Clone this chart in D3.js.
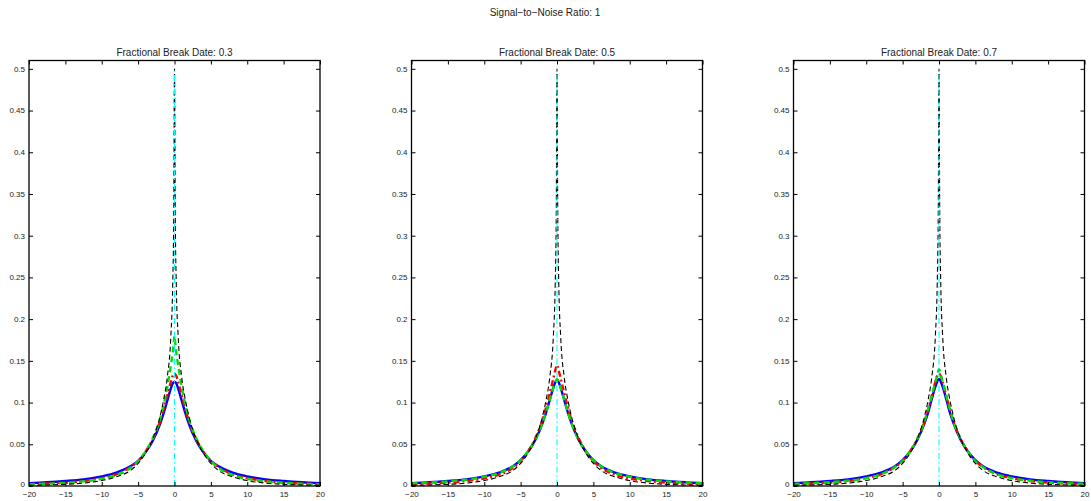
<!DOCTYPE html>
<html><head><meta charset="utf-8">
<script src="https://cdnjs.cloudflare.com/ajax/libs/d3/7.8.5/d3.min.js"></script>
<style>
body{margin:0;background:#fff;}
svg{display:block;font-family:"Liberation Sans",Arial,Helvetica,sans-serif;}
</style></head><body>
<svg id="c" width="1091" height="501"></svg>
<script>
const mainTitle = "Signal\u2212to\u2212Noise Ratio: 1";
const panelTitles = ["Fractional Break Date: 0.3", "Fractional Break Date: 0.5", "Fractional Break Date: 0.7"];
const xTicks = [-20, -15, -10, -5, 0, 5, 10, 15, 20];
const yTicks = [0, 0.05, 0.1, 0.15, 0.2, 0.25, 0.3, 0.35, 0.4, 0.45, 0.5];
const xs = [-20,-17.5,-15,-12.5,-10,-8,-6,-5,-4,-3,-2,-1.5,-1,-0.5,-0.25,-0.1,0,0.1,0.25,0.5,1,1.5,2,3,4,5,6,8,10,12.5,15,17.5,20];

// Panel 1 (break date 0.3)
const blue1  = [0.0035,0.0045,0.006,0.008,0.0115,0.016,0.024,0.030,0.040,0.054,0.074,0.087,0.102,0.117,0.123,0.1245,0.125,0.1245,0.123,0.117,0.102,0.087,0.074,0.054,0.040,0.030,0.024,0.016,0.0115,0.008,0.006,0.0045,0.0035];
const red1   = [0.0022,0.003,0.004,0.006,0.0095,0.014,0.023,0.030,0.041,0.056,0.077,0.092,0.108,0.125,0.132,0.134,0.135,0.134,0.132,0.125,0.108,0.092,0.077,0.056,0.041,0.030,0.023,0.014,0.0095,0.006,0.004,0.003,0.0022];
const green1 = [0.002,0.0028,0.0038,0.0055,0.0085,0.013,0.022,0.030,0.041,0.057,0.080,0.097,0.118,0.145,0.160,0.172,0.180,0.172,0.160,0.145,0.118,0.097,0.080,0.057,0.041,0.030,0.022,0.013,0.0085,0.0055,0.0038,0.0028,0.002];
const black1 = [0.0007,0.0012,0.002,0.0035,0.0065,0.011,0.019,0.027,0.039,0.056,0.083,0.103,0.130,0.180,0.240,0.330,0.500,0.330,0.240,0.180,0.130,0.103,0.083,0.056,0.039,0.027,0.019,0.011,0.0065,0.0035,0.002,0.0012,0.0007];
// Panel 2 (break date 0.5)
const blue2  = [0.0035,0.0045,0.006,0.008,0.0115,0.016,0.024,0.031,0.041,0.055,0.075,0.088,0.103,0.118,0.124,0.1265,0.127,0.1265,0.124,0.118,0.103,0.088,0.075,0.055,0.041,0.031,0.024,0.016,0.0115,0.008,0.006,0.0045,0.0035];
const red2   = [0.0022,0.003,0.004,0.006,0.009,0.0135,0.022,0.030,0.041,0.057,0.079,0.094,0.111,0.129,0.138,0.143,0.145,0.143,0.138,0.129,0.111,0.094,0.079,0.057,0.041,0.030,0.022,0.0135,0.009,0.006,0.004,0.003,0.0022];
const green2 = [0.0032,0.0042,0.0055,0.0075,0.011,0.0155,0.024,0.031,0.041,0.055,0.075,0.088,0.103,0.118,0.124,0.127,0.128,0.127,0.124,0.118,0.103,0.088,0.075,0.055,0.041,0.031,0.024,0.0155,0.011,0.0075,0.0055,0.0042,0.0032];
const black2 = [0.0007,0.0012,0.002,0.0035,0.0065,0.011,0.019,0.027,0.039,0.056,0.083,0.103,0.130,0.180,0.240,0.330,0.500,0.330,0.240,0.180,0.130,0.103,0.083,0.056,0.039,0.027,0.019,0.011,0.0065,0.0035,0.002,0.0012,0.0007];
// Panel 3 (break date 0.7)
const blue3  = [0.0035,0.0045,0.006,0.008,0.0115,0.016,0.024,0.031,0.041,0.055,0.075,0.088,0.104,0.119,0.125,0.1275,0.128,0.1275,0.125,0.119,0.104,0.088,0.075,0.055,0.041,0.031,0.024,0.016,0.0115,0.008,0.006,0.0045,0.0035];
const red3   = [0.0022,0.003,0.004,0.006,0.0095,0.014,0.023,0.030,0.041,0.056,0.077,0.092,0.108,0.125,0.132,0.134,0.135,0.134,0.132,0.125,0.108,0.092,0.077,0.056,0.041,0.030,0.023,0.014,0.0095,0.006,0.004,0.003,0.0022];
const green3 = [0.0026,0.0034,0.0045,0.0063,0.0095,0.014,0.023,0.030,0.041,0.056,0.077,0.092,0.108,0.125,0.133,0.138,0.140,0.138,0.133,0.125,0.108,0.092,0.077,0.056,0.041,0.030,0.023,0.014,0.0095,0.0063,0.0045,0.0034,0.0026];
const black3 = [0.0007,0.0012,0.002,0.0035,0.0065,0.011,0.019,0.027,0.039,0.056,0.083,0.103,0.130,0.180,0.240,0.330,0.500,0.330,0.240,0.180,0.130,0.103,0.083,0.056,0.039,0.027,0.019,0.011,0.0065,0.0035,0.002,0.0012,0.0007];
const breakLineX = [0, 0];
const breakLineY = [0, 0.5];

const panelSeries = [
  [blue1, red1, green1, black1],
  [blue2, red2, green2, black2],
  [blue3, red3, green3, black3]
];
const seriesStyle = [
  {color:"#0000ff", width:2.4, dash:null},
  {color:"#ff0000", width:2.4, dash:"6,3,2,3"},
  {color:"#00dd00", width:2.4, dash:"6,4"},
  {color:"#000000", width:1.1, dash:"5,3"}
];

const svg = d3.select("#c");
svg.append("text").attr("x", 545).attr("y", 16).attr("text-anchor","middle")
  .attr("font-size", 10).attr("fill","#222").text(mainTitle);

const panelLeft = [29, 411.5, 793.5];
const pw = 291, plotTop = 60.5, plotBottom = 486;

panelLeft.forEach((L, i) => {
  const x = d3.scaleLinear().domain([-20, 20]).range([L, L + pw]);
  const y = d3.scaleLinear().domain([0, 0.51]).range([plotBottom, plotTop]);
  const g = svg.append("g");
  const clipId = "clip" + i;
  g.append("clipPath").attr("id", clipId).append("rect")
    .attr("x", L).attr("y", plotTop).attr("width", pw).attr("height", plotBottom - plotTop);
  const plot = g.append("g").attr("clip-path", `url(#${clipId})`);
  const line = d3.line().x((d, k) => x(xs[k])).y(d => y(d)).curve(d3.curveMonotoneX);
  panelSeries[i].forEach((vals, s) => {
    const st = seriesStyle[s];
    plot.append("path").datum(vals).attr("d", line)
      .attr("fill","none").attr("stroke", st.color).attr("stroke-width", st.width)
      .attr("stroke-dasharray", st.dash).attr("stroke-linejoin","round");
  });
  plot.append("path").datum(breakLineY)
    .attr("d", d3.line().x((d, k) => x(breakLineX[k])).y(d => y(d)))
    .attr("fill","none").attr("stroke","#00ffff").attr("stroke-width",1.1)
    .attr("stroke-dasharray","6,3,1.5,3");

  const fmtX = d => d < 0 ? "\u2212" + Math.abs(d) : String(d);
  const fmtY = d => d === 0 ? "0" : String(+d.toFixed(2));
  const ax = g.append("g").attr("transform", `translate(0,${plotBottom})`)
    .call(d3.axisBottom(x).tickValues(xTicks).tickSize(-4).tickPadding(5.5).tickFormat(fmtX));
  const axT = g.append("g").attr("transform", `translate(0,${plotTop})`)
    .call(d3.axisTop(x).tickValues(xTicks).tickSize(-4).tickFormat(""));
  const ay = g.append("g").attr("transform", `translate(${L},0)`)
    .call(d3.axisLeft(y).tickValues(yTicks).tickSize(-4).tickPadding(4).tickFormat(fmtY));
  const ayR = g.append("g").attr("transform", `translate(${L + pw},0)`)
    .call(d3.axisRight(y).tickValues(yTicks).tickSize(-4).tickFormat(""));
  [ax, axT, ay, ayR].forEach(a => {
    a.select(".domain").remove();
    a.selectAll("line").attr("stroke","#000").attr("stroke-width",1);
    a.selectAll("text").attr("font-size", 8).attr("fill","#222")
      .attr("font-family","'Liberation Sans',Arial,sans-serif");
  });
  ay.selectAll("text").attr("dy", "0.3em");
  ay.selectAll("text").filter(d => d === 0).attr("dy", "0.05em");
  g.append("rect").attr("x", L).attr("y", plotTop).attr("width", pw).attr("height", plotBottom - plotTop)
    .attr("fill","none").attr("stroke","#000").attr("stroke-width",1.3);
  g.append("text").attr("x", L + pw/2).attr("y", plotTop - 5).attr("text-anchor","middle")
    .attr("font-size", 10).attr("fill","#222").text(panelTitles[i]);
});
</script>
</body></html>
